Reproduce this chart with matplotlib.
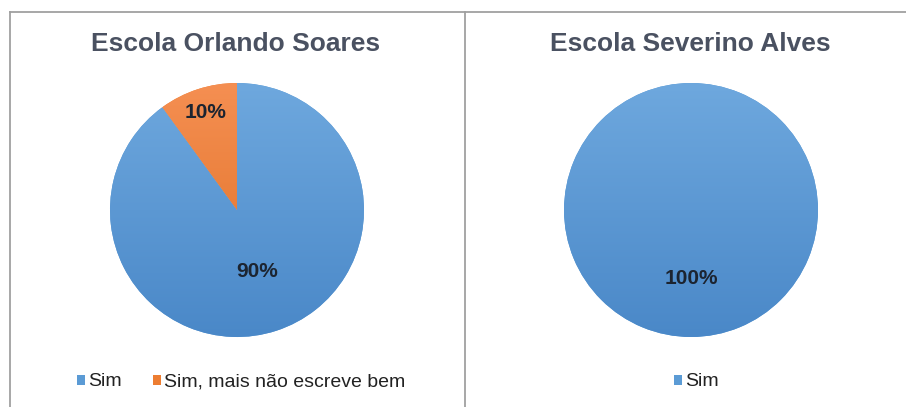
import numpy as np
import matplotlib
matplotlib.use("Agg")
import matplotlib.pyplot as plt
from matplotlib.patches import Patch
from matplotlib.lines import Line2D

plt.rcParams['font.family'] = ['Liberation Sans', 'DejaVu Sans']

W, H = 906, 407

# survey answers per school (percent)
titles = ["Escola Orlando Soares", "Escola Severino Alves"]
labels_orlando = ["Sim", "Sim, mais não escreve bem"]
values_orlando = [90, 10]
labels_severino = ["Sim"]
values_severino = [100]

BLUE = "#5B9BD5"
ORANGE = "#ED7D31"
GRAD = {BLUE: ("#6EA8DE", "#4A88C8"), ORANGE: ("#F58F52", "#DE6E22")}
TITLE_C = "#4A5161"
LINE_C = "#A0A0A0"

# pixel layout of each panel: pie centre x, pie centre y, radius
panels = [(237, 210, 127), (691, 210, 127)]
legend_x = [241, 696]
label_dist = [[0.51, 0.81], [0.54]]


def px(x, y):
    return x / W, 1 - y / H


def gradient_fill(ax, wedge, cols):
    top, bot = [np.array(matplotlib.colors.to_rgb(c)) for c in cols]
    t = np.linspace(0, 1, 256)[:, None]
    img = top * (1 - t[..., None]) + bot * t[..., None]
    img = np.repeat(img, 4, axis=1)
    im = ax.imshow(img, extent=(-1, 1, -1, 1), origin='upper', zorder=wedge.get_zorder() + 0.1,
                   interpolation='bilinear')
    im.set_clip_path(wedge)


def draw_pie(ax, values, colors, dists):
    wedges, _ = ax.pie(values, colors=colors, startangle=90, counterclock=False,
                       radius=1, wedgeprops=dict(linewidth=0))
    for w, c in zip(wedges, colors):
        gradient_fill(ax, w, GRAD[c])
    total = sum(values)
    for w, v, d in zip(wedges, values, dists):
        mid = np.deg2rad((w.theta1 + w.theta2) / 2)
        ax.text(d * np.cos(mid), d * np.sin(mid), f"{v / total * 100:.0f}%",
                ha='center', va='center', fontsize=15, fontweight='bold',
                color='#1C2430', zorder=10)
    ax.set_xlim(-1, 1)
    ax.set_ylim(-1, 1)
    ax.set_aspect('equal')
    ax.axis('off')


fig = plt.figure(figsize=(W / 100, H / 100), dpi=100)

data = [(values_orlando, [BLUE, ORANGE], labels_orlando),
        (values_severino, [BLUE], labels_severino)]

for (cx, cy, r), lgx, (vals, cols, labs), dists, title in zip(panels, legend_x, data,
                                                             label_dist, titles):
    l, b = px(cx - r, cy + r)
    ax = fig.add_axes([l, b, 2 * r / W, 2 * r / H])
    draw_pie(ax, vals, cols, dists)
    tx, ty = px(cx - 1, 44)
    fig.text(tx, ty, title, ha='center', va='center', fontsize=19,
             fontweight='bold', color=TITLE_C)
    handles = [Patch(facecolor=c, edgecolor='none') for c in cols]
    lx, ly = px(lgx, 382)
    fig.legend(handles, labs, loc='center', bbox_to_anchor=(lx, ly), ncol=len(labs),
               frameon=False, fontsize=14, handlelength=0.42, handleheight=0.42,
               handletextpad=0.15, columnspacing=1.6, labelcolor='#222222')

# panel frames
for xs, ys in [((10, W), (12, 12)), ((10, 10), (12, H)), ((465, 465), (12, H))]:
    p0, p1 = px(xs[0], ys[0]), px(xs[1], ys[1])
    fig.add_artist(Line2D([p0[0], p1[0]], [p0[1], p1[1]], color=LINE_C, lw=1.3))

fig.savefig("out.png", dpi=100)
